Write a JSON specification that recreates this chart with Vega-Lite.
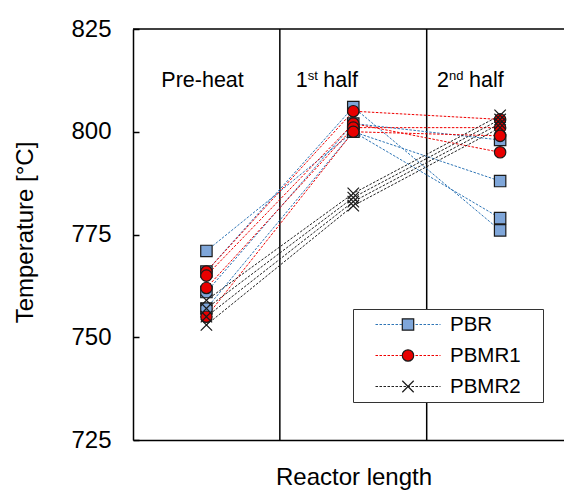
{
  "$schema": "https://vega.github.io/schema/vega-lite/v6.json",
  "width": 431,
  "height": 411,
  "autosize": {"type": "none"},
  "padding": {"left": 133, "top": 29, "right": 0, "bottom": 53},
  "config": {"view": {"stroke": null}, "font": "Liberation Sans"},
  "data": {
    "values": [
      {"series": "PBR", "run": "PBR-1", "pos": 0.5, "temp": 771},
      {"series": "PBR", "run": "PBR-1", "pos": 1.5, "temp": 800},
      {"series": "PBR", "run": "PBR-1", "pos": 2.5, "temp": 788},
      {"series": "PBR", "run": "PBR-2", "pos": 0.5, "temp": 766},
      {"series": "PBR", "run": "PBR-2", "pos": 1.5, "temp": 806},
      {"series": "PBR", "run": "PBR-2", "pos": 2.5, "temp": 776},
      {"series": "PBR", "run": "PBR-3", "pos": 0.5, "temp": 761},
      {"series": "PBR", "run": "PBR-3", "pos": 1.5, "temp": 802},
      {"series": "PBR", "run": "PBR-3", "pos": 2.5, "temp": 798},
      {"series": "PBR", "run": "PBR-4", "pos": 0.5, "temp": 757},
      {"series": "PBR", "run": "PBR-4", "pos": 1.5, "temp": 800},
      {"series": "PBR", "run": "PBR-4", "pos": 2.5, "temp": 779},
      {"series": "PBMR1", "run": "PBMR1-1", "pos": 0.5, "temp": 766},
      {"series": "PBMR1", "run": "PBMR1-1", "pos": 1.5, "temp": 805},
      {"series": "PBMR1", "run": "PBMR1-1", "pos": 2.5, "temp": 803},
      {"series": "PBMR1", "run": "PBMR1-2", "pos": 0.5, "temp": 765},
      {"series": "PBMR1", "run": "PBMR1-2", "pos": 1.5, "temp": 802},
      {"series": "PBMR1", "run": "PBMR1-2", "pos": 2.5, "temp": 795},
      {"series": "PBMR1", "run": "PBMR1-3", "pos": 0.5, "temp": 762},
      {"series": "PBMR1", "run": "PBMR1-3", "pos": 1.5, "temp": 801},
      {"series": "PBMR1", "run": "PBMR1-3", "pos": 2.5, "temp": 801},
      {"series": "PBMR1", "run": "PBMR1-4", "pos": 0.5, "temp": 755},
      {"series": "PBMR1", "run": "PBMR1-4", "pos": 1.5, "temp": 800},
      {"series": "PBMR1", "run": "PBMR1-4", "pos": 2.5, "temp": 799},
      {"series": "PBMR2", "run": "PBMR2-1", "pos": 0.5, "temp": 759},
      {"series": "PBMR2", "run": "PBMR2-1", "pos": 1.5, "temp": 785},
      {"series": "PBMR2", "run": "PBMR2-1", "pos": 2.5, "temp": 804},
      {"series": "PBMR2", "run": "PBMR2-2", "pos": 0.5, "temp": 757},
      {"series": "PBMR2", "run": "PBMR2-2", "pos": 1.5, "temp": 784},
      {"series": "PBMR2", "run": "PBMR2-2", "pos": 2.5, "temp": 803},
      {"series": "PBMR2", "run": "PBMR2-3", "pos": 0.5, "temp": 755},
      {"series": "PBMR2", "run": "PBMR2-3", "pos": 1.5, "temp": 783},
      {"series": "PBMR2", "run": "PBMR2-3", "pos": 2.5, "temp": 802},
      {"series": "PBMR2", "run": "PBMR2-4", "pos": 0.5, "temp": 753},
      {"series": "PBMR2", "run": "PBMR2-4", "pos": 1.5, "temp": 782},
      {"series": "PBMR2", "run": "PBMR2-4", "pos": 2.5, "temp": 801}
    ]
  },
  "layer": [
    {
      "data": {"values": [{"edge": 825}]},
      "mark": {"type": "rule", "color": "black", "strokeWidth": 1.5},
      "encoding": {"y": {"field": "edge", "type": "quantitative"}}
    },
    {
      "data": {"values": [{"boundary": 1}, {"boundary": 2}]},
      "mark": {"type": "rule", "color": "black", "strokeWidth": 1.5},
      "encoding": {"x": {"field": "boundary", "type": "quantitative"}}
    },
    {
      "mark": {"type": "line", "strokeWidth": 1, "strokeDash": [2.5, 1.5]},
      "encoding": {
        "x": {
          "field": "pos", "type": "quantitative",
          "scale": {"domain": [0, 2.935], "nice": false, "zero": false},
          "axis": {
            "title": "Reactor length", "titleFontSize": 24, "titleFontWeight": "normal", "titleColor": "black",
            "titleX": 220.5, "titleY": 44, "titleBaseline": "alphabetic", "titleAlign": "center",
            "labels": false, "ticks": false, "grid": false,
            "domainColor": "black", "domainWidth": 1.5
          }
        },
        "y": {
          "field": "temp", "type": "quantitative",
          "scale": {"domain": [725, 825], "nice": false, "zero": false},
          "axis": {
            "title": "Temperature [°C]", "titleFontSize": 24, "titleFontWeight": "normal", "titleColor": "black",
            "titleX": -101, "titleY": 203, "titleBaseline": "alphabetic", "titleAlign": "center", "titleAngle": 270,
            "values": [725, 750, 775, 800, 825],
            "labelFontSize": 24, "labelColor": "black", "labelPadding": 28,
            "tickSize": -6, "tickColor": "black", "tickWidth": 1.5,
            "grid": false, "domainColor": "black", "domainWidth": 1.5
          }
        },
        "detail": {"field": "run"},
        "order": {"field": "pos"},
        "stroke": {
          "field": "series", "type": "nominal", "sort": ["PBR", "PBMR1", "PBMR2"],
          "scale": {"range": ["#2E75B6", "#F00000", "#222222"]},
          "legend": {
            "orient": "none", "legendX": 220, "legendY": 280,
            "title": " ", "titleOrient": "right", "titlePadding": 20, "titleFontSize": 10,
            "padding": 2, "clipHeight": 27, "rowPadding": 4,
            "strokeColor": "#333333", "fillColor": "white",
            "symbolType": "stroke", "symbolSize": 4225, "symbolStrokeWidth": 1,
            "symbolDash": [2.5, 1.5], "symbolOffset": 20,
            "labelOffset": 9, "labelFontSize": 20.5, "labelColor": "black", "labelFont": "Liberation Sans"
          }
        }
      }
    },
    {
      "mark": {"type": "point", "filled": true, "opacity": 1, "size": 130, "stroke": "#1a1a1a", "strokeWidth": 1.2},
      "encoding": {
        "x": {"field": "pos", "type": "quantitative"},
        "y": {"field": "temp", "type": "quantitative"},
        "shape": {
          "field": "series", "type": "nominal",
          "scale": {"domain": ["PBR", "PBMR1", "PBMR2"], "range": ["square", "circle", "M-1,-1L1,1M-1,1L1,-1"]},
          "legend": {
            "orient": "none", "legendX": 220, "legendY": 280, "title": null,
            "padding": 2, "clipHeight": 27, "rowPadding": 4,
            "symbolSize": 130, "symbolOffset": 43, "symbolStrokeWidth": 1.2,
            "labelFontSize": 20, "labelExpr": "''",
            "encode": {"symbols": {"stroke": {"value": "#1a1a1a"}, "strokeWidth": {"value": 1.2}}}
          }
        },
        "fill": {
          "field": "series", "type": "nominal",
          "scale": {"domain": ["PBR", "PBMR1", "PBMR2"], "range": ["#7FA6D9", "#E80000", "#000000"]},
          "legend": {
            "orient": "none", "legendX": 220, "legendY": 280, "title": null,
            "padding": 2, "clipHeight": 27, "rowPadding": 4,
            "symbolSize": 130, "symbolOffset": 43, "symbolStrokeWidth": 1.2,
            "labelFontSize": 20, "labelExpr": "''",
            "encode": {"symbols": {"stroke": {"value": "#1a1a1a"}, "strokeWidth": {"value": 1.2}}}
          }
        }
      }
    },
    {
      "data": {"values": [{}]},
      "mark": {"type": "text", "align": "left", "baseline": "alphabetic", "fontSize": 21.5, "color": "black"},
      "encoding": {"x": {"datum": 0.193}, "y": {"datum": 810.9}, "text": {"value": "Pre-heat"}}
    },
    {
      "data": {"values": [{}]},
      "mark": {"type": "text", "align": "left", "baseline": "alphabetic", "fontSize": 21.5, "color": "black"},
      "encoding": {"x": {"datum": 1.108}, "y": {"datum": 810.9}, "text": {"value": "1"}}
    },
    {
      "data": {"values": [{}]},
      "mark": {"type": "text", "align": "left", "baseline": "alphabetic", "fontSize": 13, "color": "black", "dx": 12, "dy": -7},
      "encoding": {"x": {"datum": 1.108}, "y": {"datum": 810.9}, "text": {"value": "st"}}
    },
    {
      "data": {"values": [{}]},
      "mark": {"type": "text", "align": "left", "baseline": "alphabetic", "fontSize": 21.5, "color": "black", "dx": 27.6},
      "encoding": {"x": {"datum": 1.108}, "y": {"datum": 810.9}, "text": {"value": "half"}}
    },
    {
      "data": {"values": [{}]},
      "mark": {"type": "text", "align": "left", "baseline": "alphabetic", "fontSize": 21.5, "color": "black"},
      "encoding": {"x": {"datum": 2.07}, "y": {"datum": 810.9}, "text": {"value": "2"}}
    },
    {
      "data": {"values": [{}]},
      "mark": {"type": "text", "align": "left", "baseline": "alphabetic", "fontSize": 13, "color": "black", "dx": 12, "dy": -7},
      "encoding": {"x": {"datum": 2.07}, "y": {"datum": 810.9}, "text": {"value": "nd"}}
    },
    {
      "data": {"values": [{}]},
      "mark": {"type": "text", "align": "left", "baseline": "alphabetic", "fontSize": 21.5, "color": "black", "dx": 32},
      "encoding": {"x": {"datum": 2.07}, "y": {"datum": 810.9}, "text": {"value": "half"}}
    }
  ]
}
